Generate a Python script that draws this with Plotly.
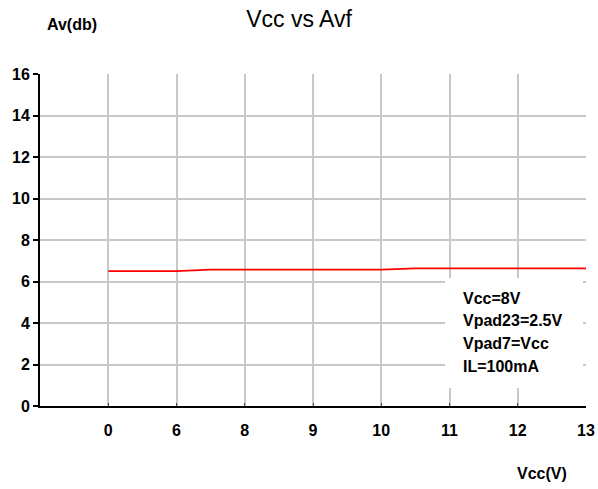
import plotly.graph_objects as go

# Data
vcc_tick_labels = ["0", "6", "8", "9", "10", "11", "12", "13"]
vcc_tick_pos = [1, 2, 3, 4, 5, 6, 7, 8]
x_points = [1, 2, 2.5, 5, 5.5, 8]
avf_db = [6.5, 6.5, 6.57, 6.57, 6.63, 6.63]
y_ticks = [0, 2, 4, 6, 8, 10, 12, 14, 16]
note_lines = ["Vcc=8V", "Vpad23=2.5V", "Vpad7=Vcc", "IL=100mA"]

FONT = "Liberation Sans, Arial, sans-serif"

fig = go.Figure()
fig.add_trace(go.Scatter(x=x_points, y=avf_db, mode="lines",
                         line=dict(color="#ff0000", width=1.8), showlegend=False,
                         hoverinfo="skip"))

fig.update_layout(
    width=598, height=489,
    margin=dict(l=40, r=12, t=74, b=83, autoexpand=False),
    paper_bgcolor="white", plot_bgcolor="white",
    title=dict(text="Vcc vs Avf", x=0.5, xanchor="center", y=1 - 19 / 489, yanchor="middle",
               font=dict(family=FONT, size=23, color="black")),
    font=dict(family=FONT, color="black"),
)
fig.update_xaxes(range=[0, 8], tickvals=vcc_tick_pos, ticktext=vcc_tick_labels,
                 showgrid=True, gridcolor="#c8c8c8", gridwidth=1.5,
                 showline=True, linecolor="black", linewidth=2,
                 ticks="inside", ticklen=3, tickcolor="#444", tickwidth=1,
                 zeroline=False, ticklabelstandoff=9, automargin=False,
                 tickfont=dict(family=FONT, size=16, color="black", weight="bold"))
fig.update_yaxes(range=[0, 16], tickvals=y_ticks,
                 showgrid=True, gridcolor="#c8c8c8", gridwidth=1.5,
                 showline=True, linecolor="black", linewidth=2,
                 ticks="outside", ticklen=5, tickcolor="black", tickwidth=2,
                 zeroline=False, automargin=False,
                 tickfont=dict(family=FONT, size=16, color="black", weight="bold"))

# white box behind notes
fig.add_shape(type="rect", xref="paper", yref="paper",
              x0=(445 - 40) / 546, x1=(583 - 40) / 546,
              y0=(406 - 388) / 332, y1=(406 - 278) / 332,
              fillcolor="white", line=dict(width=0), layer="above")

for i, txt in enumerate(note_lines):
    fig.add_annotation(xref="paper", yref="paper",
                       x=(461 - 40) / 546, y=(406 - (298 + 22.7 * i)) / 332,
                       xanchor="left", yanchor="middle", showarrow=False,
                       text=txt, font=dict(family=FONT, size=16, color="black", weight="bold"))

fig.add_annotation(xref="paper", yref="paper", x=(45 - 40) / 546, y=(406 - 25) / 332,
                   xanchor="left", yanchor="middle", showarrow=False, text="Av(db)",
                   font=dict(family=FONT, size=16, color="black", weight="bold"))
fig.add_annotation(xref="paper", yref="paper", x=(542 - 40) / 546, y=(406 - 473) / 332,
                   xanchor="center", yanchor="middle", showarrow=False, text="Vcc(V)",
                   font=dict(family=FONT, size=16, color="black", weight="bold"))

fig.write_html("out.html", config={"displayModeBar": False},
               post_script="document.body.style.margin='0px';document.body.style.padding='0px';")
